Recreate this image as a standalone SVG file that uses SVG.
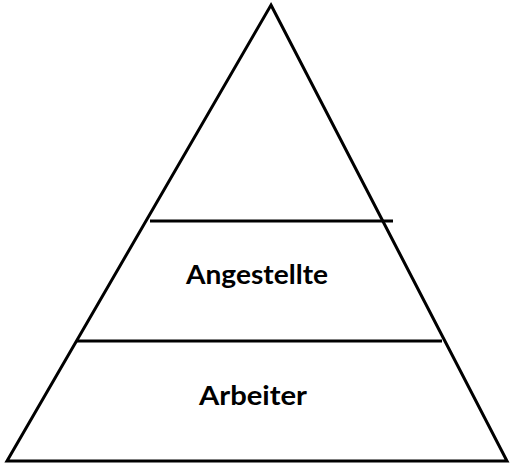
<svg xmlns="http://www.w3.org/2000/svg" width="510" height="465" viewBox="0 0 510 465">
<style>
.s{fill:none;stroke:#000;stroke-width:3;stroke-linejoin:miter}
.t{font-family:Lato,"Open Sans",sans-serif;font-weight:bold;font-size:27px;fill:#000;text-anchor:middle}
</style>
<rect width="510" height="465" fill="#fff"/>
<g id="pyramid"><polygon class="s" points="271,5 507,461 7,461"/></g>
<g id="connectors">
<line class="s" x1="150" y1="221" x2="393" y2="221"/>
<line class="s" x1="77" y1="341" x2="442" y2="341"/>
</g>
<g id="angestellte"><text class="t" x="257" y="284" textLength="142" lengthAdjust="spacingAndGlyphs">Angestellte</text></g>
<g id="arbeiter"><text class="t" x="253" y="405" textLength="108" lengthAdjust="spacingAndGlyphs">Arbeiter</text></g>
</svg>
